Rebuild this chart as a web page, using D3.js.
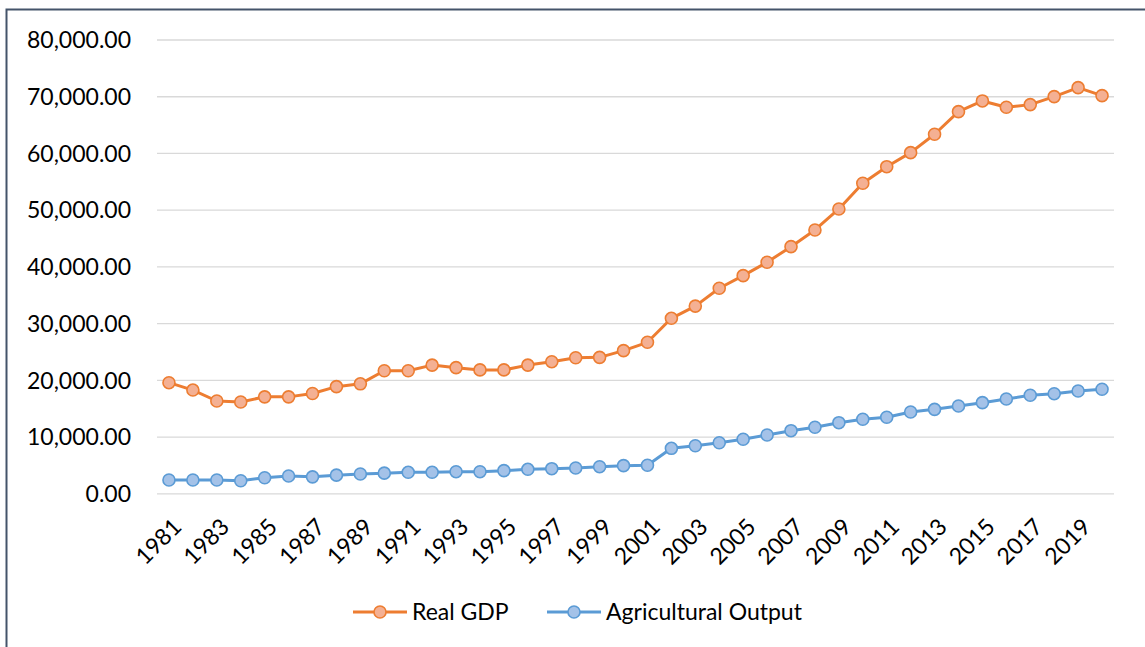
<!DOCTYPE html>
<html>
<head>
<meta charset="utf-8">
<script src="https://cdn.jsdelivr.net/npm/d3@7"></script>
<style>
  body { margin: 0; background: #fff; }
  text { font-family: Lato, "Open Sans", sans-serif; fill: #000; }
</style>
</head>
<body>
<div id="grafica"></div>
<script>
// years on the category axis
var years = d3.range(1981, 2021);

var realGdp = [19500, 18200, 16270, 16100, 17000, 17000, 17600, 18800, 19300, 21600,
               21600, 22600, 22150, 21750, 21750, 22600, 23200, 23900, 23970, 25150,
               26620, 30850, 33000, 36140, 38370, 40730, 43480, 46420, 50120, 54660,
               57580, 60050, 63300, 67280, 69170, 68050, 68520, 69930, 71510, 70100];

var agriOutput = [2350, 2350, 2350, 2220, 2750, 3050, 2900, 3200, 3400, 3550,
                  3700, 3700, 3810, 3810, 3990, 4230, 4340, 4460, 4690, 4870,
                  4940, 7930, 8390, 8920, 9520, 10280, 11040, 11640, 12450, 13050,
                  13400, 14330, 14800, 15390, 15980, 16630, 17280, 17560, 18040, 18340];

var yTicks = [0, 10000, 20000, 30000, 40000, 50000, 60000, 70000, 80000];

var series = [
  { name: "Real GDP", values: realGdp, line: "#ed7d31", fill: "#f4b093" },
  { name: "Agricultural Output", values: agriOutput, line: "#5b9bd5", fill: "#a4c2e8" }
];

var width = 1145, height = 647;

var svg = d3.select("#grafica")
  .append("svg")
  .attr("width", width)
  .attr("height", height);

// chart frame (only left and top edges are visible in the crop)
svg.append("path")
  .attr("d", "M6.5,647 L6.5,9.5 L1145,9.5")
  .attr("fill", "none")
  .attr("stroke", "#44546a")
  .attr("stroke-width", 2);

var x = d3.scaleBand()
  .domain(years)
  .range([157, 1114]);

var y = d3.scaleLinear()
  .domain([0, 80000])
  .range([493.3, 39.5]);

var fmt = d3.format(",.2f");

// gridlines + y labels
var yAxis = d3.axisLeft(y)
  .tickValues(yTicks)
  .tickSize(-(1114 - 157))
  .tickPadding(26)
  .tickFormat(fmt);

var gy = svg.append("g")
  .attr("transform", "translate(157,0)")
  .call(yAxis);
gy.select(".domain").remove();
gy.selectAll(".tick line")
  .attr("stroke", "#d9d9d9")
  .attr("stroke-width", 1.3);
gy.selectAll(".tick text")
  .style("font-size", "23px")
  .attr("dy", "0.36em");

// x labels, every other year, rotated
var xAxis = d3.axisBottom(x)
  .tickValues(years.filter(function(d) { return (d - 1981) % 2 == 0; }))
  .tickSize(0)
  .tickPadding(0);

var gx = svg.append("g")
  .attr("transform", "translate(0,493.3)")
  .call(xAxis);
gx.select(".domain").remove();
gx.selectAll(".tick text")
  .style("font-size", "23px")
  .attr("text-anchor", "end")
  .attr("dy", null)
  .attr("y", 0)
  .attr("transform", "translate(14,35) rotate(-45)");

var line = d3.line()
  .x(function(d, i) { return x(years[i]) + x.bandwidth() / 2; })
  .y(function(d) { return y(d); });

series.forEach(function(s) {
  svg.append("path")
    .datum(s.values)
    .attr("fill", "none")
    .attr("stroke", s.line)
    .attr("stroke-width", 3)
    .attr("stroke-linejoin", "round")
    .attr("d", line);

  svg.selectAll(null)
    .data(s.values)
    .enter()
    .append("circle")
    .attr("cx", function(d, i) { return x(years[i]) + x.bandwidth() / 2; })
    .attr("cy", function(d) { return y(d); })
    .attr("r", 6)
    .attr("fill", s.fill)
    .attr("stroke", s.line)
    .attr("stroke-width", 1.6);
});

// legend
var legendPos = [353, 547];
var legend = svg.selectAll(".legend")
  .data(series)
  .enter()
  .append("g")
  .attr("class", "legend")
  .attr("transform", function(d, i) { return "translate(" + legendPos[i] + ",612)"; });

legend.append("line")
  .attr("x1", 0).attr("x2", 54)
  .attr("stroke", function(d) { return d.line; })
  .attr("stroke-width", 3);
legend.append("circle")
  .attr("cx", 27)
  .attr("r", 6)
  .attr("fill", function(d) { return d.fill; })
  .attr("stroke", function(d) { return d.line; })
  .attr("stroke-width", 1.6);
legend.append("text")
  .attr("x", 59)
  .attr("dy", "0.36em")
  .style("font-size", "23px")
  .text(function(d) { return d.name; });
</script>
</body>
</html>
